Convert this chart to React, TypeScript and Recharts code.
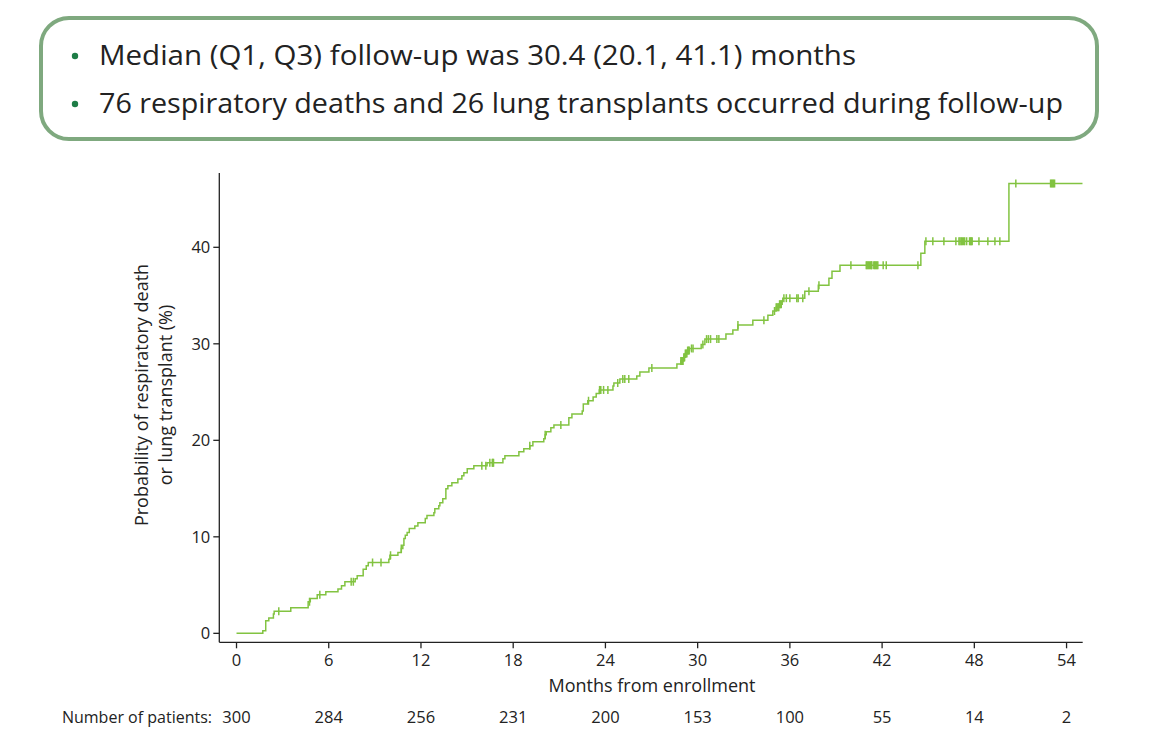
import { ComposedChart, Line, Scatter, XAxis, YAxis } from 'recharts';

// cumulative incidence step curve: month of each step and value (%) after it
const stepMonths = [
  0, 1.71, 1.9, 2.1, 2.4, 2.45, 3.53, 4.66, 4.8, 5.25, 5.81, 6.6, 6.83, 7.05, 7.72, 7.85,
  8.24, 8.44, 8.57, 9.91, 9.98, 10.5, 10.72, 10.82, 10.89, 10.98, 11.1, 11.24, 11.6, 11.8,
  12.28, 12.39, 12.84, 12.9, 13.16, 13.23, 13.42, 13.62, 13.75, 14.01, 14.4, 14.66, 14.79,
  15.01, 15.44, 16.3, 17.33, 17.46, 18.37, 18.69, 19.08, 19.28, 19.99, 20.08, 20.15, 20.45,
  20.65, 21.62, 21.82, 22.49, 22.56, 22.85, 23.2, 23.4, 23.6, 24.49, 24.55, 24.94, 26.04,
  26.24, 26.83, 28.65, 28.91, 29.1, 29.2, 29.35, 29.47, 30.23, 30.47, 31.84, 32.29, 32.62,
  33.59, 34.57, 34.89, 35.1, 35.3, 35.5, 35.54, 36.97, 37.85, 38.54, 38.74, 39.26, 44.52,
  44.78, 50.25, 55.05,
];
const stepPct = [
  0, 0.27, 1.3, 1.6, 2.0, 2.3, 2.65, 3.28, 3.6, 4.0, 4.3, 4.6, 4.93, 5.34, 5.65, 5.96,
  6.64, 7.0, 7.34, 7.68, 8.09, 8.37, 8.79, 9.13, 9.82, 10.16, 10.44, 10.85, 11.12, 11.47,
  11.89, 12.2, 12.5, 12.92, 13.23, 13.54, 13.95, 14.99, 15.3, 15.61, 15.98, 16.33, 16.64,
  17.05, 17.36, 17.67, 18.09, 18.4, 18.81, 19.12, 19.43, 19.84, 20.15, 20.57, 20.88, 21.29,
  21.6, 22.33, 22.74, 23.05, 23.77, 24.1, 24.5, 24.85, 25.22, 25.63, 25.94, 26.36, 26.67,
  27.08, 27.49, 27.91, 28.22, 28.6, 29.0, 29.3, 29.52, 29.93, 30.49, 31.01, 31.42, 31.94,
  32.45, 32.97, 33.4, 33.8, 34.1, 34.45, 34.73, 35.45, 36.07, 36.8, 37.52, 38.14, 39.38,
  40.62, 46.61, 46.61,
];

// censored observations (months)
const censorMonths = [
  2.75, 4.75, 5.42, 7.46, 7.6, 8.85, 9.4, 10.02, 10.72, 15.96, 16.22, 16.48, 16.64, 16.68,
  16.72, 19.08, 20.08, 21.1, 22.9, 23.62, 23.66, 23.7, 23.88, 24.16, 24.8, 25.13, 25.26,
  25.52, 27.02, 28.91, 28.95, 29.0, 29.05, 29.1, 29.15, 29.2, 29.25, 29.3, 29.35, 29.4,
  29.45, 29.6, 29.7, 30.34, 30.58, 30.7, 30.84, 31.25, 31.38, 32.62, 34.31, 35.0, 35.11,
  35.16, 35.22, 35.28, 35.33, 35.38, 35.44, 35.61, 35.77, 36.0, 36.45, 36.54, 36.84, 37.24,
  37.89, 39.97, 40.97, 41.03, 41.1, 41.17, 41.24, 41.3, 41.33, 41.46, 41.52, 41.58, 41.65,
  41.72, 42.07, 42.27, 44.33, 44.85, 45.3, 46.02, 46.8, 47.0, 47.07, 47.15, 47.22, 47.3,
  47.37, 47.5, 47.69, 47.75, 47.8, 47.86, 48.3, 48.88, 49.34, 49.66, 50.7, 52.96, 53.02,
  53.09, 53.15, 53.22,
];

const xTicks = [0, 6, 12, 18, 24, 30, 36, 42, 48, 54];
const yTicks = [0, 10, 20, 30, 40];
const atRisk = [300, 284, 256, 231, 200, 153, 100, 55, 14, 2];

const summary = [
  'Median (Q1, Q3) follow-up was 30.4 (20.1, 41.1) months',
  '76 respiratory deaths and 26 lung transplants occurred during follow-up',
];

const lineData = stepMonths.map((t, i) => ({ t, p: stepPct[i] }));

const valueAt = (t: number) => {
  let v = 0;
  for (let i = 0; i < stepMonths.length; i++) {
    if (stepMonths[i] <= t) v = stepPct[i];
  }
  return v;
};
const censorData = censorMonths.map((t) => ({ t, p: valueAt(t) }));

const green = '#82c341';
const ink = '#222';
const font = '"Open Sans", "Noto Sans", sans-serif';

const MonthTick = (props: any) => {
  const { x, y, payload, index } = props;
  return (
    <g>
      <text x={x} y={y} dy={18} textAnchor="middle" fontSize={16.5} fill={ink} fontFamily={font}>
        {payload.value}
      </text>
      <text x={x} y={y} dy={75} textAnchor="middle" fontSize={16.5} fill={ink} fontFamily={font}>
        {atRisk[index]}
      </text>
    </g>
  );
};

const CensorMark = (props: any) => {
  const { cx, cy } = props;
  return <line x1={cx} x2={cx} y1={cy - 4} y2={cy + 4} stroke={green} strokeWidth={1.5} />;
};

const App = () => {
  return (
    <div style={{ position: 'absolute', left: 0, top: 0, width: 1164, height: 745, background: '#fff' }}>
      <svg width={1164} height={745} style={{ position: 'absolute', left: 0, top: 0 }}>
        <rect x={41} y={18} width={1056} height={121} rx={28} ry={28} fill="#fff" stroke="#7fa97f" strokeWidth={4} />
        {summary.map((s, i) => (
          <g key={i}>
            <circle cx={75} cy={56 + i * 48} r={3.2} fill="#1e7d46" />
            <text
              x={99}
              y={64.5 + i * 48}
              fontSize={26.5}
              fill={ink}
              fontFamily={font}
              textLength={i === 0 ? 757 : 964}
              lengthAdjust="spacingAndGlyphs"
            >
              {s}
            </text>
          </g>
        ))}
        <text
          transform="translate(141, 395) rotate(-90)"
          textAnchor="middle"
          dominantBaseline="central"
          fontSize={18}
          fill={ink}
          fontFamily={font}
        >
          Probability of respiratory death
        </text>
        <text
          transform="translate(165, 395) rotate(-90)"
          textAnchor="middle"
          dominantBaseline="central"
          fontSize={18}
          fill={ink}
          fontFamily={font}
        >
          or lung transplant (%)
        </text>
        <text x={652} y={692} textAnchor="middle" fontSize={18} fill={ink} fontFamily={font}>
          Months from enrollment
        </text>
        <text x={212} y={723} textAnchor="end" fontSize={16} fill={ink} fontFamily={font}>
          Number of patients:
        </text>
      </svg>
      <div style={{ position: 'absolute', left: 0, top: 0 }}>
        <ComposedChart
          width={1164}
          height={745}
          data={lineData}
          margin={{ top: 173, right: 81.3, bottom: 72.7, left: 159.3 }}
        >
          <XAxis
            dataKey="t"
            type="number"
            domain={[-1.12, 55.05]}
            ticks={xTicks}
            allowDataOverflow
            height={30}
            tickSize={6}
            tickMargin={0}
            stroke={ink}
            strokeWidth={1.3}
            tick={<MonthTick />}
            interval={0}
          />
          <YAxis
            type="number"
            domain={[-0.93, 47.7]}
            ticks={yTicks}
            allowDataOverflow
            width={60}
            tickSize={6}
            tickMargin={3}
            stroke={ink}
            strokeWidth={1.3}
            tick={{ fontSize: 16.5, fill: ink, fontFamily: font }}
            interval={0}
          />
          <Line
            dataKey="p"
            type="stepAfter"
            stroke={green}
            strokeWidth={1.5}
            dot={false}
            activeDot={false}
            isAnimationActive={false}
          />
          <Scatter
            data={censorData}
            dataKey="p"
            shape={<CensorMark />}
            isAnimationActive={false}
          />
        </ComposedChart>
      </div>
    </div>
  );
};

export default App;
